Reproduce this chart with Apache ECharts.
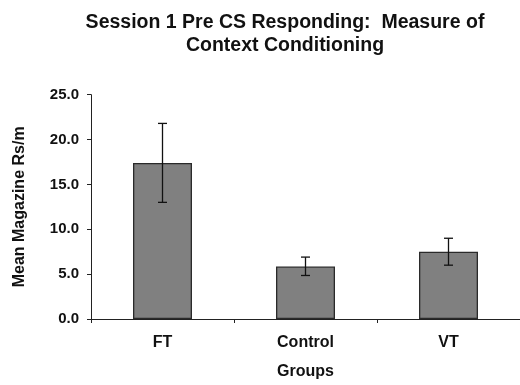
<!DOCTYPE html>
<html>
<head>
<meta charset="utf-8">
<script src="https://cdn.jsdelivr.net/npm/echarts@6/dist/echarts.min.js"></script>
<style>html,body{margin:0;padding:0;background:#fff;}#c{width:520px;height:385px;}</style>
</head>
<body>
<div id="c"></div>
<script>
var categories = ['FT', 'Control', 'VT'];
var means = [17.4, 5.85, 7.5];
var errLow = [13.0, 4.85, 6.0];
var errHigh = [21.8, 6.9, 9.0];
var yTicks = [0, 5, 10, 15, 20, 25];

var chart = echarts.init(document.getElementById('c'), null, {renderer: 'canvas'});
var font = '"Liberation Sans", Arial, sans-serif';
chart.setOption({
  animation: false,
  backgroundColor: '#ffffff',
  title: {
    text: 'Session 1 Pre CS Responding:  Measure of\nContext Conditioning',
    left: 280, top: 6, textAlign: 'center',
    textStyle: {fontFamily: font, fontWeight: 'bold', fontSize: 19.5, color: '#111', lineHeight: 23}
  },
  grid: {left: 91, right: -6, top: 94.7, bottom: 63.3, containLabel: false},
  xAxis: {
    type: 'category', data: categories,
    name: 'Groups', nameLocation: 'middle', nameGap: 45,
    nameTextStyle: {fontFamily: font, fontWeight: 'bold', fontSize: 16, color: '#111'},
    axisLine: {lineStyle: {color: '#222', width: 1}},
    axisTick: {show: true, alignWithLabel: false, length: 4, lineStyle: {color: '#222'}},
    axisLabel: {fontFamily: font, fontWeight: 'bold', fontSize: 16, color: '#111', margin: 16}
  },
  yAxis: {
    type: 'value', min: yTicks[0], max: yTicks[yTicks.length - 1], interval: 5,
    name: 'Mean Magazine Rs/m', nameLocation: 'middle', nameGap: 63, nameRotate: 90,
    nameTextStyle: {fontFamily: font, fontWeight: 'bold', fontSize: 16, color: '#111'},
    axisLine: {show: true, lineStyle: {color: '#222', width: 1}},
    axisTick: {show: true, length: 4, lineStyle: {color: '#222'}},
    splitLine: {show: false},
    axisLabel: {fontFamily: font, fontWeight: 'bold', fontSize: 15, color: '#111', margin: 12,
      formatter: function (v) { return v.toFixed(1); }}
  },
  series: [
    {
      type: 'bar', data: means, barWidth: 59,
      itemStyle: {color: '#808080', borderColor: '#2a2a2a', borderWidth: 1.3}
    },
    {
      type: 'custom',
      data: categories.map(function (c, i) { return [i, errLow[i], errHigh[i]]; }),
      z: 10,
      renderItem: function (params, api) {
        var lo = api.coord([api.value(0), api.value(1)]);
        var hi = api.coord([api.value(0), api.value(2)]);
        var hw = 4.5;
        var st = {stroke: '#111', lineWidth: 1.3};
        return {type: 'group', children: [
          {type: 'line', shape: {x1: hi[0], y1: hi[1], x2: lo[0], y2: lo[1]}, style: st},
          {type: 'line', shape: {x1: hi[0] - hw, y1: hi[1], x2: hi[0] + hw, y2: hi[1]}, style: st},
          {type: 'line', shape: {x1: lo[0] - hw, y1: lo[1], x2: lo[0] + hw, y2: lo[1]}, style: st}
        ]};
      }
    }
  ]
});
</script>
</body>
</html>
